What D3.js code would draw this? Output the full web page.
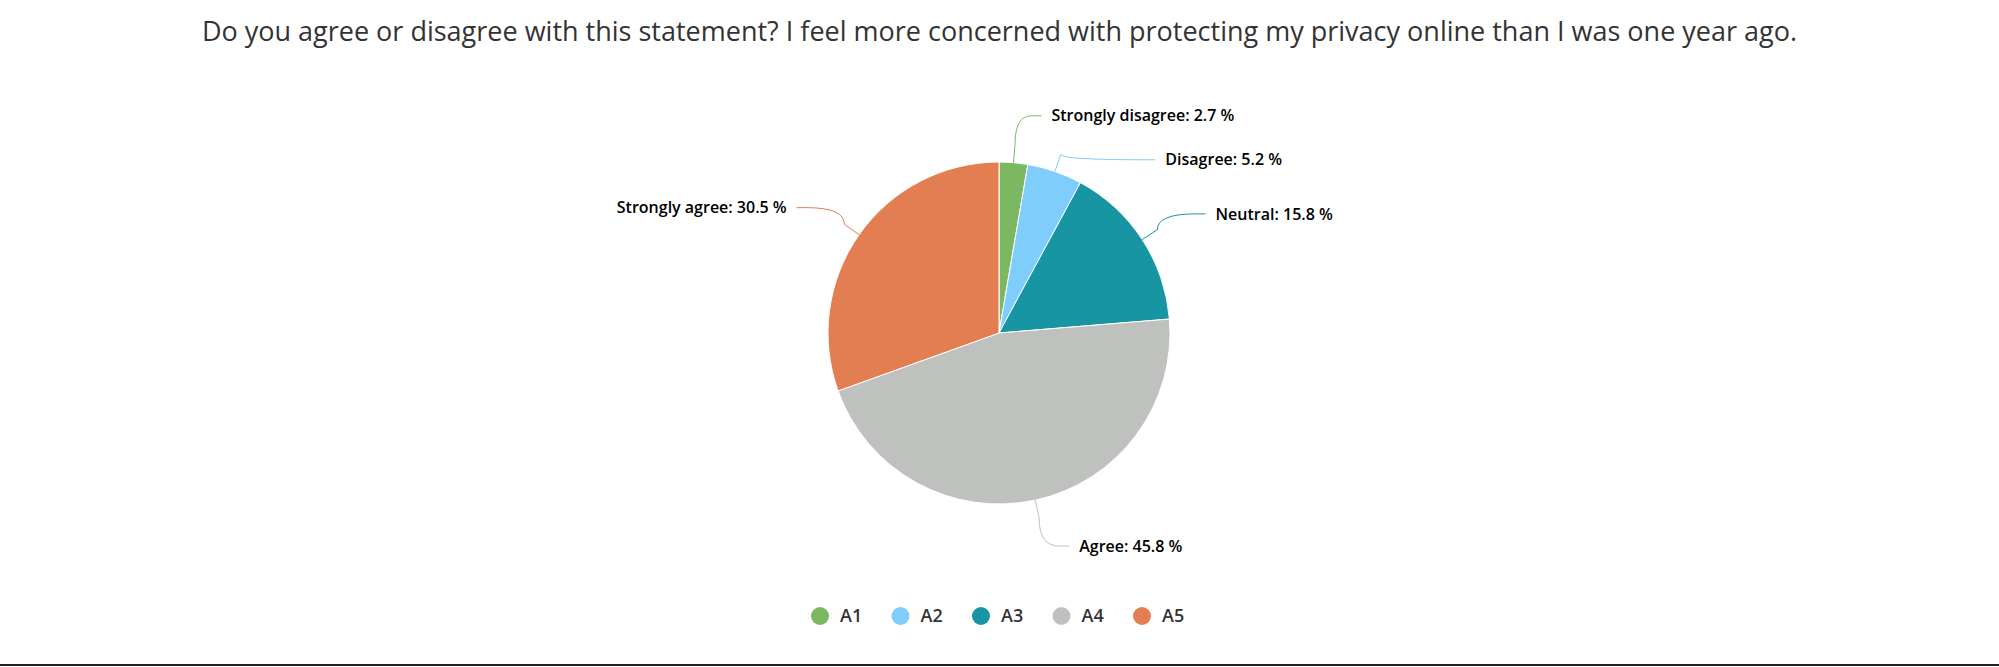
<!DOCTYPE html>
<html><head><meta charset="utf-8">
<script src="https://cdn.jsdelivr.net/npm/d3@7"></script>
<style>body{margin:0;background:#fff;font-family:"Open Sans",sans-serif}</style>
</head><body>
<svg id="chart" width="1999" height="667"></svg>
<script>
const title = "Do you agree or disagree with this statement? I feel more concerned with protecting my privacy online than I was one year ago.";
const labels = ["Strongly disagree", "Disagree", "Neutral", "Agree", "Strongly agree"];
const codes = ["A1", "A2", "A3", "A4", "A5"];
const values = [2.7, 5.2, 15.8, 45.8, 30.5];
const colors = ["#7cb862", "#7fcdfb", "#1795a3", "#bec1bd", "#e27e51"];

const svg = d3.select("#chart");
const W = 1999, cx = 999, cy = 333, r = 171, R = 218;

svg.append("text").attr("x", W / 2).attr("y", 41).attr("text-anchor", "middle")
  .style("font-size", "27px").attr("fill", "#333").text(title);

const data = values.map((v, i) => ({ v, i }));
const arcs = d3.pie().value(d => d.v).sort(null)(data);
const arc = d3.arc().innerRadius(0).outerRadius(r);

const g = svg.append("g").attr("transform", `translate(${cx},${cy})`);
g.selectAll("path.slice").data(arcs).enter().append("path")
  .attr("d", arc).attr("fill", d => colors[d.data.i])
  .attr("stroke", "#fff").attr("stroke-width", 1);

// label placement with simple anti-collision
const items = arcs.map(a => {
  const m = (a.startAngle + a.endAngle) / 2;
  return { a, m, right: Math.sin(m) >= 0, y: -R * Math.cos(m) };
});
const right = items.filter(d => d.right).sort((a, b) => a.y - b.y);
for (let k = 1; k < right.length; k++) if (right[k].y - right[k - 1].y < 44) right[k].y = right[k - 1].y + 44;
if (right.length > 1) { // pull top label up when pushed
  right[0].y = Math.min(right[0].y, right[1].y - 44);
}
items.forEach(d => {
  const dy = Math.max(-R, Math.min(R, d.y));
  const dx = Math.sqrt(R * R - dy * dy) + 14;
  d.x = d.right ? dx : -dx;
});

items.forEach(d => {
  const ex = r * Math.sin(d.m), ey = -r * Math.cos(d.m);
  const bx = (r + 18) * Math.sin(d.m), by = -(r + 18) * Math.cos(d.m);
  const lx = d.x + (d.right ? 10 : -10);
  g.append("path")
    .attr("d", `M${lx},${d.y}L${d.x},${d.y}Q${bx},${d.y} ${bx},${by}L${ex},${ey}`)
    .attr("fill", "none").attr("stroke", colors[d.a.data.i]).attr("stroke-width", 1);
  g.append("text")
    .attr("x", d.x + (d.right ? 20 : -20)).attr("y", d.y)
    .attr("dy", "0.35em").attr("text-anchor", d.right ? "start" : "end")
    .style("font-size", "16px").style("font-weight", 600).attr("fill", "#000")
    .text(`${labels[d.a.data.i]}: ${d.a.data.v} %`);
});

// legend
const lg = svg.append("g").attr("transform", "translate(820,616)");
const li = lg.selectAll("g").data(codes).enter().append("g")
  .attr("transform", (d, i) => `translate(${i * 80.5},0)`);
li.append("circle").attr("r", 9).attr("fill", (d, i) => colors[i]);
li.append("text").attr("x", 20).attr("dy", "0.35em")
  .style("font-size", "18px").style("font-weight", 600).attr("fill", "#333").text(d => d);

svg.append("line").attr("x1", 0).attr("x2", W).attr("y1", 665).attr("y2", 665)
  .attr("stroke", "#222").attr("stroke-width", 2);
</script>
</body></html>
